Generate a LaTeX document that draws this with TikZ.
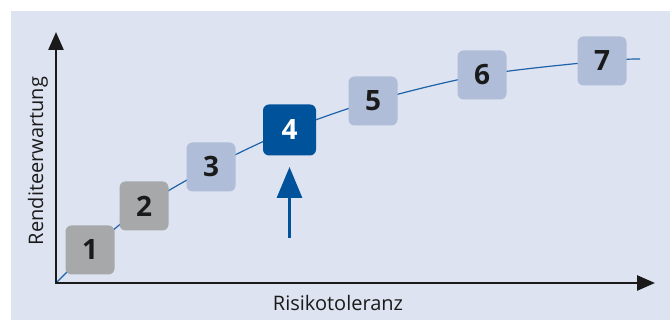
\documentclass[tikz,border=0pt]{standalone}
\usepackage{fontspec}
\setmainfont{Open Sans}
\usetikzlibrary{arrows.meta}
\definecolor{panel}{HTML}{DDE3F1}
\definecolor{boxgrey}{HTML}{A7A8AA}
\definecolor{boxlight}{HTML}{AFBDD8}
\definecolor{boxdark}{HTML}{00529B}
\definecolor{curveblue}{HTML}{1E62A8}
\definecolor{ink}{HTML}{1A1A1A}
\begin{document}
\begin{tikzpicture}[x=1pt,y=1pt,
  stepbox/.style={rounded corners=6pt, minimum width=49pt, minimum height=49pt, inner sep=0pt,
    font=\fontsize{28}{28}\selectfont\bfseries, text=ink},
  greybox/.style={stepbox, fill=boxgrey},
  lightbox/.style={stepbox, fill=boxlight},
  darkbox/.style={stepbox, fill=boxdark, text=white, minimum width=53pt, minimum height=51pt},
  axis/.style={draw=ink, line width=2.5pt, -{Triangle[width=15pt,length=18pt]}},
  lbl/.style={font=\fontsize{20}{20}\selectfont, text=ink}]
\useasboundingbox (0,0) rectangle (670,320);
\fill[white] (0,0) rectangle (670,320);
\fill[panel] (11,0) rectangle (670,309);
% coordinates
\coordinate (o) at (56,37);
\coordinate (c1) at (90,70);
\coordinate (c2) at (144,114);
\coordinate (c3) at (211,153);
\coordinate (c4) at (289.5,190);
\coordinate (c5) at (373,219);
\coordinate (c6) at (482,245);
\coordinate (c7) at (602,259);
\coordinate (cend) at (640,261);
\coordinate (xend) at (655,37);
\coordinate (yend) at (56,288);
\coordinate (abot) at (289.5,82);
\coordinate (atop) at (289.5,153);
% curve
\draw[curveblue, line width=1.2pt] plot[smooth, tension=0.5] coordinates {(o) (c1) (c2) (c3) (c4) (c5) (c6) (c7) (cend)};
% axes
\draw[axis] ([xshift=-1.25pt]o) -- (xend);
\draw[axis] ([yshift=-1.25pt]o) -- (yend);
% boxes
\node[greybox] (n1) at (c1) {1};
\node[greybox] (n2) at (c2) {2};
\node[lightbox] (n3) at (c3) {3};
\node[darkbox] (n4) at (c4) {4};
\node[lightbox] (n5) at (c5) {5};
\node[lightbox] (n6) at (c6) {6};
\node[lightbox] (n7) at (c7) {7};
% arrow
\draw[draw=boxdark, line width=3pt, -{Triangle[width=25pt,length=31pt]}] (abot) -- (atop);
% labels
\node[lbl] (xl) at (338,17) {Risikotoleranz};
\node[lbl, rotate=90] (yl) at (38,159) {Renditeerwartung};
\end{tikzpicture}
\end{document}
